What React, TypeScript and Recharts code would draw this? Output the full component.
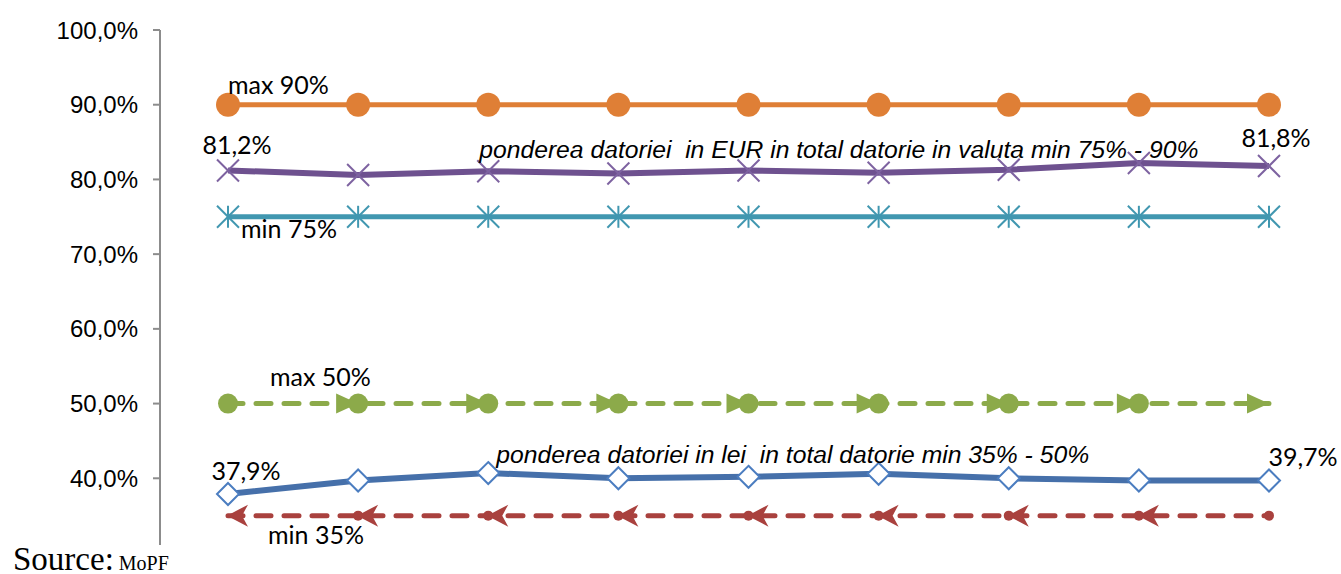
import { LineChart, Line, XAxis, YAxis, LabelList } from 'recharts';

// periods on the x axis (not labelled on the chart)
const periods = ['P1', 'P2', 'P3', 'P4', 'P5', 'P6', 'P7', 'P8', 'P9'];

// share of EUR debt in total foreign-currency debt, %
const eurShare = [81.2, 80.6, 81.1, 80.8, 81.2, 80.9, 81.3, 82.2, 81.8];
// share of lei debt in total debt, %
const leiShare = [37.9, 39.7, 40.7, 40.0, 40.2, 40.6, 40.0, 39.7, 39.7];
// target bands
const eurMax = [90, 90, 90, 90, 90, 90, 90, 90, 90];
const eurMin = [75, 75, 75, 75, 75, 75, 75, 75, 75];
const leiMax = [50, 50, 50, 50, 50, 50, 50, 50, 50];
const leiMin = [35, 35, 35, 35, 35, 35, 35, 35, 35];

const yTicks = [30, 40, 50, 60, 70, 80, 90, 100];

const eurTitle = 'ponderea datoriei  in EUR in total datorie in valuta min 75% - 90%';
const leiTitle = 'ponderea datoriei in lei  in total datorie min 35% - 50%';

const data = periods.map((p, i) => ({
    period: p,
    eurMax: eurMax[i],
    eur: eurShare[i],
    eurMin: eurMin[i],
    leiMax: leiMax[i],
    lei: leiShare[i],
    leiMin: leiMin[i],
}));

const pct = (v: number) => `${v.toFixed(1).replace('.', ',')}%`;

const LABEL_FONT = 'Lato, "Liberation Sans", sans-serif';
const TITLE_FONT = '"Liberation Sans", Arial, sans-serif';

// text placed next to one point of a series
const pointText = (idx: number, text: (v: number) => string, dx: number, dy: number, anchor: string, italic = false) =>
    (props: any) => {
        const { x, y, index, value } = props;
        if (index !== idx) return null;
        return (
            <text
                x={x + dx}
                y={y + dy}
                textAnchor={anchor as any}
                fontFamily={italic ? TITLE_FONT : LABEL_FONT}
                fontStyle={italic ? 'italic' : 'normal'}
                fontSize={italic ? 24.7 : 25}
                fill="#000"
                style={{ whiteSpace: 'pre' }}
            >
                {text(Number(value))}
            </text>
        );
    };

const CircleDot = (color: string, r: number) => (props: any) => {
    const { cx, cy, index } = props;
    return <circle key={index} cx={cx} cy={cy} r={r} fill={color} stroke="none" />;
};

const CrossDot = (color: string) => (props: any) => {
    const { cx, cy, index } = props;
    const s = 11;
    return (
        <g key={index} stroke={color} strokeWidth={2}>
            <line x1={cx - s} y1={cy - s} x2={cx + s} y2={cy + s} />
            <line x1={cx - s} y1={cy + s} x2={cx + s} y2={cy - s} />
        </g>
    );
};

const StarDot = (color: string) => (props: any) => {
    const { cx, cy, index } = props;
    const s = 11;
    return (
        <g key={index} stroke={color} strokeWidth={2}>
            <line x1={cx - s} y1={cy - s} x2={cx + s} y2={cy + s} />
            <line x1={cx - s} y1={cy + s} x2={cx + s} y2={cy - s} />
            <line x1={cx} y1={cy - s} x2={cx} y2={cy + s} />
        </g>
    );
};

const DiamondDot = (color: string) => (props: any) => {
    const { cx, cy, index } = props;
    const s = 11;
    return (
        <path
            key={index}
            d={`M${cx},${cy - s} L${cx + s},${cy} L${cx},${cy + s} L${cx - s},${cy} Z`}
            fill="#fff"
            stroke={color}
            strokeWidth={2}
        />
    );
};

// circle marker plus a right-pointing arrowhead ending each segment
const ArrowRightDot = (color: string, last: number) => (props: any) => {
    const { cx, cy, index } = props;
    return (
        <g key={index} fill={color}>
            {index > 0 && <path d={`M${cx - 22},${cy - 10} L${cx},${cy} L${cx - 22},${cy + 10} Z`} />}
            {index < last && <circle cx={cx} cy={cy} r={10} />}
        </g>
    );
};

// small dot plus a left-pointing arrowhead starting each segment
const ArrowLeftDot = (color: string, last: number) => (props: any) => {
    const { cx, cy, index } = props;
    return (
        <g key={index} fill={color}>
            {index > 0 && <circle cx={cx} cy={cy} r={5} />}
            {index < last && <path d={`M${cx - 1},${cy} L${cx + 20},${cy - 11} L${cx + 14},${cy} L${cx + 20},${cy + 11} Z`} />}
        </g>
    );
};

const ORANGE = '#DF7F36';
const PURPLE = '#6E518F';
const PURPLE_MK = '#7D62A0';
const TEAL = '#4197B0';
const GREEN = '#8CAA4A';
const BLUE = '#4670AA';
const BLUE_MK = '#4B7DC0';
const RED = '#A9413E';

export default function App() {
    const last = periods.length - 1;
    return (
        <div style={{ position: 'fixed', left: 0, top: 0, width: 1341, height: 574, background: '#fff', overflow: 'hidden' }}>
            <LineChart width={1341} height={574} data={data} margin={{ top: 30, right: 7, bottom: 21, left: 0 }}>
                <XAxis dataKey="period" hide padding={{ left: 68, right: 65 }} />
                <YAxis
                    width={160}
                    domain={[30, 100]}
                    ticks={yTicks}
                    interval={0}
                    tickFormatter={pct}
                    tickSize={7}
                    tickMargin={15}
                    axisLine={{ stroke: '#8c8c8c', strokeWidth: 2 }}
                    tickLine={{ stroke: '#8c8c8c', strokeWidth: 2 }}
                    tick={{ fill: '#000', fontSize: 24, fontFamily: TITLE_FONT }}
                />

                <Line dataKey="eurMax" stroke={ORANGE} strokeWidth={5} dot={CircleDot(ORANGE, 12)} activeDot={false} isAnimationActive={false}>
                    <LabelList dataKey="eurMax" content={pointText(0, (v) => `max ${v}%`, 0, -11, 'start')} />
                </Line>

                <Line dataKey="eurMin" stroke={TEAL} strokeWidth={5} dot={StarDot(TEAL)} activeDot={false} isAnimationActive={false}>
                    <LabelList dataKey="eurMin" content={pointText(0, (v) => `min ${v}%`, 13, 21, 'start')} />
                </Line>

                <Line dataKey="eur" stroke={PURPLE} strokeWidth={6} dot={CrossDot(PURPLE_MK)} activeDot={false} isAnimationActive={false}>
                    <LabelList dataKey="eur" content={pointText(0, pct, 9, -16, 'middle')} />
                    <LabelList dataKey="eur" content={pointText(last, pct, 7, -19, 'middle')} />
                    <LabelList dataKey="eur" content={pointText(2, () => eurTitle, -9, -13, 'start', true)} />
                </Line>

                <Line
                    dataKey="leiMax"
                    stroke={GREEN}
                    strokeWidth={5}
                    strokeDasharray="15 13"
                    strokeLinecap="round"
                    dot={ArrowRightDot(GREEN, last)}
                    activeDot={false}
                    isAnimationActive={false}
                >
                    <LabelList dataKey="leiMax" content={pointText(0, (v) => `max ${v}%`, 42, -18, 'start')} />
                </Line>

                <Line
                    dataKey="leiMin"
                    stroke={RED}
                    strokeWidth={5}
                    strokeDasharray="15 13"
                    strokeLinecap="round"
                    dot={ArrowLeftDot(RED, last)}
                    activeDot={false}
                    isAnimationActive={false}
                >
                    <LabelList dataKey="leiMin" content={pointText(0, (v) => `min ${v}%`, 40, 28, 'start')} />
                </Line>

                <Line dataKey="lei" stroke={BLUE} strokeWidth={6} dot={DiamondDot(BLUE_MK)} activeDot={false} isAnimationActive={false}>
                    <LabelList dataKey="lei" content={pointText(0, pct, 18, -14, 'middle')} />
                    <LabelList dataKey="lei" content={pointText(last, pct, 34, -15, 'middle')} />
                    <LabelList dataKey="lei" content={pointText(2, () => leiTitle, 8, -10, 'start', true)} />
                </Line>
            </LineChart>

            <div
                style={{
                    position: 'absolute',
                    left: 0,
                    top: 545,
                    width: 250,
                    height: 29,
                    background: '#fff',
                    fontFamily: '"Liberation Serif", "Times New Roman", serif',
                    color: '#000',
                    whiteSpace: 'pre',
                }}
            >
                <span style={{ position: 'absolute', left: 13, top: -4, fontSize: 33, lineHeight: '36px' }}>
                    Source:<span style={{ fontSize: 20 }}> MoPF</span>
                </span>
            </div>
        </div>
    );
}
